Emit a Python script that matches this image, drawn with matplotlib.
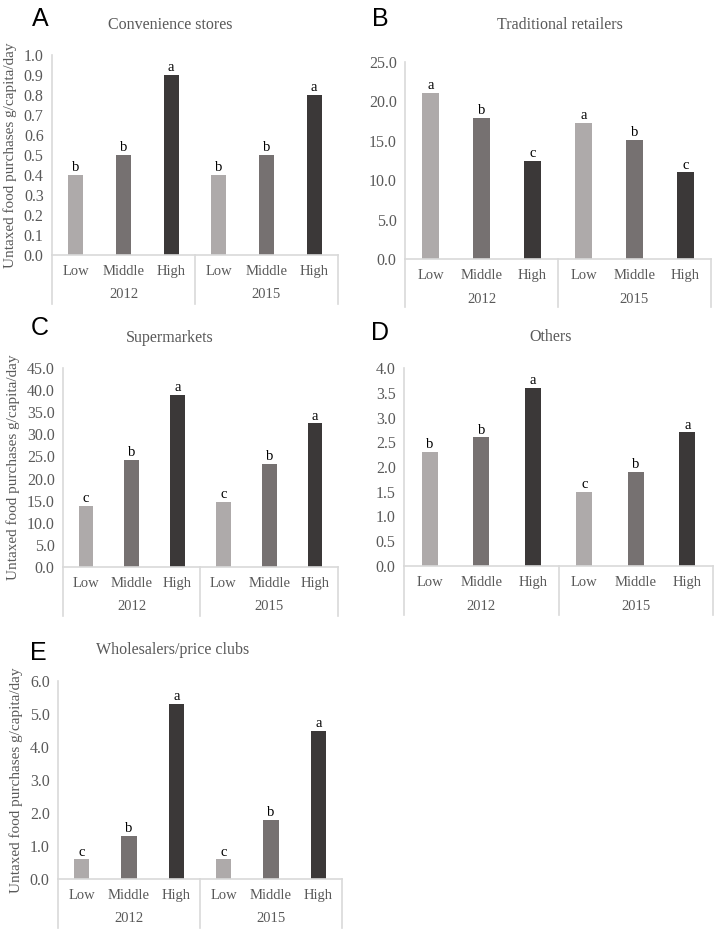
import numpy as np
import matplotlib.pyplot as plt

# categories
levels = ['Low', 'Middle', 'High']
years = ['2012', '2015']

# values per panel: 2012 Low/Middle/High then 2015 Low/Middle/High
conv_vals = [0.4, 0.5, 0.9, 0.4, 0.5, 0.8]
conv_sig = ['b', 'b', 'a', 'b', 'b', 'a']
trad_vals = [21.1, 17.9, 12.5, 17.3, 15.1, 11.0]
trad_sig = ['a', 'b', 'c', 'a', 'b', 'c']
super_vals = [13.8, 24.3, 38.9, 14.8, 23.4, 32.5]
super_sig = ['c', 'b', 'a', 'c', 'b', 'a']
other_vals = [2.3, 2.6, 3.6, 1.5, 1.9, 2.7]
other_sig = ['b', 'b', 'a', 'c', 'b', 'a']
whole_vals = [0.6, 1.3, 5.3, 0.6, 1.8, 4.5]
whole_sig = ['c', 'b', 'a', 'c', 'b', 'a']

W, H = 726, 939
fig = plt.figure(figsize=(W/100, H/100), dpi=100)

bar_colors = ['#aeaaaa', '#767171', '#3b3838']
txt_gray = '#595959'
line_gray = '#d9d9d9'
serif = 'Liberation Serif'

def px_axes(l, r, t, b):
    return fig.add_axes([l/W, 1-b/H, (r-l)/W, (b-t)/H])

def panel(box, vals, sig, ymax, step, title, title_xy, letter, letter_xy, ylabel):
    ax = px_axes(*box)
    x = np.arange(6)
    ax.bar(x, vals, width=0.32, color=bar_colors*2, zorder=2)
    for xi, v, s in zip(x, vals, sig):
        ax.annotate(s, (xi, v), xytext=(0, 0.5), textcoords='offset points',
                    ha='center', va='bottom', fontsize=10.5, fontfamily=serif,
                    color='black')
    ax.set_xlim(-0.5, 5.5)
    ax.set_ylim(0, ymax)
    ticks = np.arange(0, ymax + step/2, step)
    ax.set_yticks(ticks)
    ax.set_yticklabels(['%.1f' % t for t in ticks])
    ax.set_xticks(x)
    ax.set_xticklabels(levels*2)
    for lab in ax.get_xticklabels() + ax.get_yticklabels():
        lab.set_fontfamily(serif)
        lab.set_color(txt_gray)
    ax.tick_params(axis='x', length=0, pad=7.5, labelsize=10.5)
    ax.tick_params(axis='y', length=0, pad=6, labelsize=11.5)
    for sp in ['top', 'right']:
        ax.spines[sp].set_visible(False)
    for sp in ['left', 'bottom']:
        ax.spines[sp].set_color(line_gray)
        ax.spines[sp].set_linewidth(1.2)
    trans = ax.get_xaxis_transform()
    for xv in [-0.5, 2.5, 5.5]:
        ax.plot([xv, xv], [0, -0.245], transform=trans, color=line_gray,
                lw=1.2, clip_on=False)
    for i, yr in enumerate(years):
        ax.annotate(yr, (1 + 3*i, 0), xycoords=trans, xytext=(0, -40),
                    textcoords='offset pixels', ha='center', va='center',
                    fontsize=10.5, fontfamily=serif, color=txt_gray)
    fig.text(title_xy[0]/W, 1-title_xy[1]/H, title, ha='center', va='center',
             fontsize=11.5, fontfamily=serif, color=txt_gray)
    fig.text(letter_xy[0]/W, 1-letter_xy[1]/H, letter, ha='center', va='center',
             fontsize=18, fontfamily='Liberation Sans', color='black')
    if ylabel:
        ax.set_ylabel('Untaxed food purchases g/capita/day', fontsize=11,
                      fontfamily=serif, color=txt_gray, labelpad=5)
    return ax

panel((52, 338, 55, 255), conv_vals, conv_sig, 1.0, 0.1, 'Convenience stores',
      (170, 25), 'A', (40, 19), True)
panel((405, 711, 62, 259), trad_vals, trad_sig, 25.0, 5.0, 'Traditional retailers',
      (560, 25), 'B', (380, 19), False)
panel((63, 338, 368, 567), super_vals, super_sig, 45.0, 5.0, 'Supermarkets',
      (170, 338), 'C', (40, 328), True)
panel((404, 713, 368, 566), other_vals, other_sig, 4.0, 0.5, 'Others',
      (551, 337), 'D', (380, 333), False)
panel((58, 342, 681, 879), whole_vals, whole_sig, 6.0, 1.0, 'Wholesalers/price clubs',
      (173, 650), 'E', (38, 653), True)

fig.savefig('out.png', dpi=100)
